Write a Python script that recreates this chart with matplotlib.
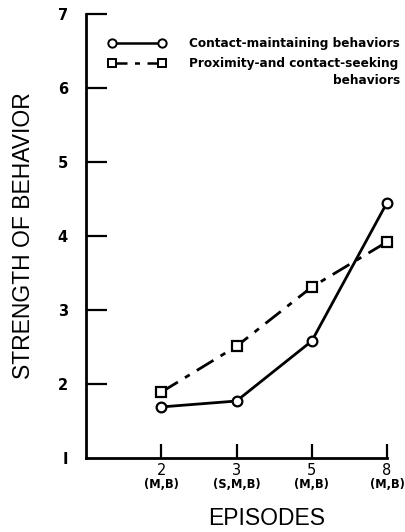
import matplotlib
matplotlib.use("Agg")
import matplotlib.pyplot as plt
from matplotlib.lines import Line2D

episodes = ["2", "3", "5", "8"]
episode_codes = ["(M,B)", "(S,M,B)", "(M,B)", "(M,B)"]
contact_maintaining = [1.69, 1.77, 2.58, 4.45]
proximity_seeking = [1.89, 2.51, 3.31, 3.92]
yticks = [1, 2, 3, 4, 5, 6, 7]
ytick_labels = ["I", "2", "3", "4", "5", "6", "7"]

fig = plt.figure(figsize=(4.05, 5.32), dpi=100)
ax = fig.add_axes([86/405, (532-458)/532, (387-86)/405, (458-14)/532])

x = list(range(len(episodes)))
ax.plot(x, contact_maintaining, color="black", lw=2, marker="o", ms=7,
        mfc="white", mec="black", mew=1.6, zorder=3, clip_on=False)
ax.plot(x, proximity_seeking, color="black", lw=2, marker="s", ms=7,
        mfc="white", mec="black", mew=1.6, dashes=(7, 3, 2, 3), zorder=3, clip_on=False)

ax.set_xlim(-1, 3)
ax.set_ylim(1, 7)
for s in ["top", "right"]:
    ax.spines[s].set_visible(False)
for s in ["left", "bottom"]:
    ax.spines[s].set_linewidth(2)

ax.set_xticks(x)
ax.set_xticklabels(episodes, fontsize=10.5)
for xi, code in zip(x, episode_codes):
    ax.annotate(code, xy=(xi, 0), xycoords=("data", "axes fraction"),
                xytext=(0, -27), textcoords="offset pixels", ha="center", va="center",
                fontsize=8.3, fontweight="bold", annotation_clip=False)
ax.set_yticks(yticks)
ax.set_yticklabels(ytick_labels, fontsize=10.5, fontweight="bold")
ax.tick_params(axis="y", direction="in", length=15, width=1.6, pad=13)
ax.tick_params(axis="x", direction="in", length=10, width=1.6, pad=3.5)
ax.yaxis.get_major_ticks()[0].tick1line.set_visible(False)

ax.set_xlabel("EPISODES", fontsize=16.5, family="Liberation Sans", va="baseline")
ax.xaxis.set_label_coords(0.60, -0.152)
ax.set_ylabel("STRENGTH OF BEHAVIOR", fontsize=16.5, family="Liberation Sans", va="center")
ax.yaxis.set_label_coords(-0.209, 0.5)

# legend
tr = ax.transAxes
def fx(px):
    return (px - 86) / (387 - 86)
def fy(py):
    return (458 - py) / (458 - 14)
ax.add_line(Line2D([fx(112), fx(162)], [fy(43), fy(43)], transform=tr, color="black",
                   lw=1.8, marker="o", ms=6, mfc="white", mec="black", mew=1.4, clip_on=False))
ax.add_line(Line2D([fx(112), fx(162)], [fy(63), fy(63)], transform=tr, color="black",
                   lw=1.8, marker="s", ms=6, mfc="white", mec="black", mew=1.4,
                   dashes=(6, 3, 2, 3), clip_on=False))
ax.text(fx(189), fy(43), "Contact-maintaining behaviors", transform=tr, fontsize=8.7,
        fontweight="bold", va="center", ha="left", clip_on=False)
ax.text(fx(189), fy(63), "Proximity-and contact-seeking", transform=tr, fontsize=8.7,
        fontweight="bold", va="center", ha="left", clip_on=False)
ax.text(fx(400), fy(80), "behaviors", transform=tr, fontsize=8.7,
        fontweight="bold", va="center", ha="right", clip_on=False)

fig.savefig("out.png", dpi=100)
